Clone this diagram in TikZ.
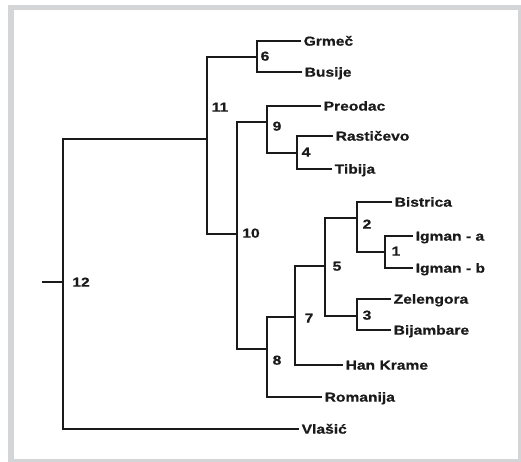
\documentclass[tikz,border=0pt]{standalone}
\usepackage{fontspec}
\setmainfont{Liberation Sans}[FakeStretch=1.2,FakeBold=0.6]
\definecolor{framegray}{HTML}{D4D5D6}
\definecolor{ink}{HTML}{1A1A1A}
\begin{document}
\begin{tikzpicture}[x=1pt,y=-1pt,
  br/.style={line width=2.5pt, draw=ink, line join=miter},
  lbl/.style={text=ink, inner ysep=0pt, text height=9.3pt, text depth=0pt,
              font=\fontsize{13}{15}\selectfont\bfseries},
  leaf/.style={lbl, anchor=west, inner xsep=2.5pt},
  num/.style={lbl, inner xsep=0pt}]
% background and frame
\useasboundingbox (0,0) rectangle (521,462);
\fill[white] (0,0) rectangle (521,462);
\fill[framegray] (8,5) rectangle (521,462);
\fill[white] (14,10) rectangle (518,459);
% leaves
\node[leaf] (grmec) at (301,41) {Grmeč};
\node[leaf] (busije) at (302,72) {Busije};
\node[leaf] (preodac) at (321,106) {Preodac};
\node[leaf] (rast) at (333,136) {Rastičevo};
\node[leaf] (tibija) at (332,169) {Tibija};
\node[leaf] (bistrica) at (392,202) {Bistrica};
\node[leaf] (igmana) at (413,236) {Igman - a};
\node[leaf] (igmanb) at (413,268) {Igman - b};
\node[leaf] (zelen) at (391,299) {Zelengora};
\node[leaf] (bijam) at (391,330) {Bijambare};
\node[leaf] (han) at (343,365) {Han Krame};
\node[leaf] (roman) at (322,397) {Romanija};
\node[leaf] (vlasic) at (299,429) {Vlašić};
% junctions
\coordinate (stub) at (42,282);
\coordinate (n12) at (63,282);
\coordinate (n11) at (207,139);
\coordinate (n6) at (257,57);
\coordinate (n10) at (237,234);
\coordinate (n9) at (267,122);
\coordinate (n4) at (297,153);
\coordinate (n8) at (267,349);
\coordinate (n7) at (295,317);
\coordinate (n5) at (325,266);
\coordinate (n2) at (357,218);
\coordinate (n1) at (385,252);
\coordinate (n3) at (357,316);
% branches
\draw[br] (grmec.west) -| (n6) |- (busije.west);
\draw[br] (rast.west) -| (n4) |- (tibija.west);
\draw[br] (preodac.west) -| (n9) |- (n4);
\draw[br] (igmana.west) -| (n1) |- (igmanb.west);
\draw[br] (bistrica.west) -| (n2) |- (n1);
\draw[br] (zelen.west) -| (n3) |- (bijam.west);
\draw[br] (n2) -| (n5) |- (n3);
\draw[br] (n5) -| (n7) |- (han.west);
\draw[br] (n7) -| (n8) |- (roman.west);
\draw[br] (n9) -| (n10) |- (n8);
\draw[br] (n6) -| (n11) |- (n10);
\draw[br] (n11) -| (n12) |- (vlasic.west);
\draw[br] (stub) -- (n12);
% node numbers
\node[num] (l12) at (81,282) {12};
\node[num] (l11) at (220,107) {11};
\node[num] (l6) at (265,56) {6};
\node[num] (l9) at (277,126) {9};
\node[num] (l4) at (306,152) {4};
\node[num] (l10) at (251,233) {10};
\node[num] (l2) at (367,224) {2};
\node[num] (l1) at (396,251) {1};
\node[num] (l5) at (337,266) {5};
\node[num] (l3) at (367,315) {3};
\node[num] (l7) at (309,318) {7};
\node[num] (l8) at (277,360) {8};
\end{tikzpicture}
\end{document}
